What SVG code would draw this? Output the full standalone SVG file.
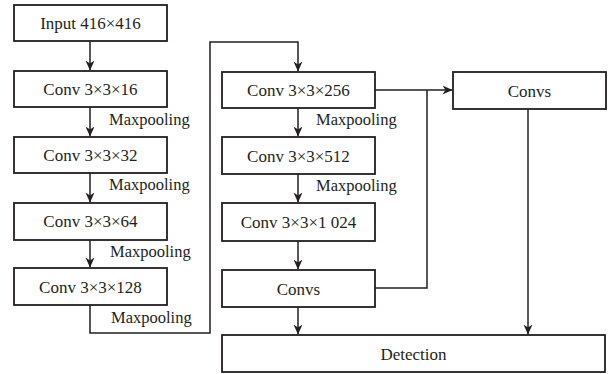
<svg xmlns="http://www.w3.org/2000/svg" width="615" height="374" viewBox="0 0 615 374">
<defs>
<style>
.box{fill:#fff;stroke:#231f20;stroke-width:1.8}
.t{font-family:"Liberation Serif","Times New Roman",serif;font-size:17px;fill:#231f20;text-anchor:middle}
.l{font-family:"Liberation Serif","Times New Roman",serif;font-size:16.5px;fill:#231f20}
.c{fill:none;stroke:#231f20;stroke-width:1.5}
</style>
<marker id="a" viewBox="0 0 10 10" refX="9.5" refY="5" markerWidth="10" markerHeight="10" markerUnits="userSpaceOnUse" orient="auto">
<path d="M0,0.5 L10,5 L0,9.5 L3,5 Z" fill="#231f20"/>
</marker>
</defs>
<rect width="615" height="374" fill="#fff"/>
<g id="connectors">
<path class="c" d="M90,42 V70" marker-end="url(#a)"/>
<path class="c" d="M90,107 V136" marker-end="url(#a)"/>
<path class="c" d="M90,173 V202" marker-end="url(#a)"/>
<path class="c" d="M90,240 V267" marker-end="url(#a)"/>
<path class="c" d="M90,305 V333 H210 V42 H298 V71" marker-end="url(#a)"/>
<path class="c" d="M298,108 V136" marker-end="url(#a)"/>
<path class="c" d="M298,174 V202" marker-end="url(#a)"/>
<path class="c" d="M298,241 V269" marker-end="url(#a)"/>
<path class="c" d="M298,307 V334" marker-end="url(#a)"/>
<path class="c" d="M375,90 H452" marker-end="url(#a)"/>
<path class="c" d="M375,288 H427 V90"/>
<path class="c" d="M528,109 V334" marker-end="url(#a)"/>
<text class="l" x="109" y="125">Maxpooling</text>
<text class="l" x="109" y="190">Maxpooling</text>
<text class="l" x="110" y="257">Maxpooling</text>
<text class="l" x="111" y="323">Maxpooling</text>
<text class="l" x="316" y="125">Maxpooling</text>
<text class="l" x="316" y="191">Maxpooling</text>
</g>
<g id="input"><rect class="box" x="14" y="5" width="153" height="36" stroke-width="2.2"/><text class="t" x="90.5" y="29">Input 416×416</text></g>
<g id="conv16"><rect class="box" x="14" y="71" width="153" height="36" stroke-width="2.2"/><text class="t" x="90.5" y="95">Conv 3×3×16</text></g>
<g id="conv32"><rect class="box" x="14" y="137" width="153" height="36"/><text class="t" x="90.5" y="161">Conv 3×3×32</text></g>
<g id="conv64"><rect class="box" x="14" y="203" width="153" height="37"/><text class="t" x="90.5" y="227">Conv 3×3×64</text></g>
<g id="conv128"><rect class="box" x="14" y="268" width="153" height="37" stroke-width="2.2"/><text class="t" x="90.5" y="293">Conv 3×3×128</text></g>
<g id="conv256"><rect class="box" x="222" y="72" width="153" height="36"/><text class="t" x="298.5" y="96">Conv 3×3×256</text></g>
<g id="conv512"><rect class="box" x="222" y="137" width="153" height="37"/><text class="t" x="298.5" y="162">Conv 3×3×512</text></g>
<g id="conv1024"><rect class="box" x="222" y="203" width="153" height="38"/><text class="t" x="298.5" y="228">Conv 3×3×1 024</text></g>
<g id="convs-mid"><rect class="box" x="222" y="270" width="153" height="37"/><text class="t" x="298.5" y="295">Convs</text></g>
<g id="convs-right"><rect class="box" x="453" y="72" width="153" height="37"/><text class="t" x="529.5" y="97">Convs</text></g>
<g id="detection"><rect class="box" x="222" y="335" width="383" height="37"/><text class="t" x="413.5" y="360">Detection</text></g>
</svg>
